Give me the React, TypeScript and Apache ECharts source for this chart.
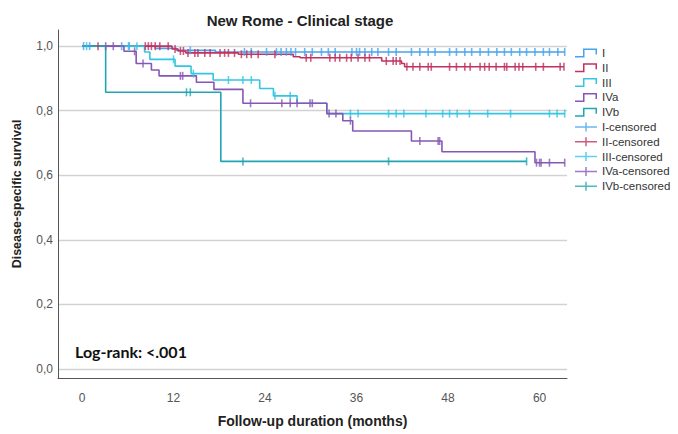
import React, { useEffect, useRef } from "react";
import * as echarts from "echarts";

// Groups and colours
const groups = ["I", "II", "III", "IVa", "IVb"];
const groupColors = ["#46a3ee", "#c2325f", "#33c5e3", "#8757b5", "#22a5b2"];

// Kaplan–Meier step points [month, survival]
const curveI = [[0, 1], [9.6, 0.993], [12.4, 0.987], [17.5, 0.982], [63.3, 0.982]];
const curveII = [[0, 1], [11.8, 0.991], [12.6, 0.985], [13.6, 0.979], [20.5, 0.975], [27.7, 0.967], [28.6, 0.964], [39.3, 0.954], [41.9, 0.946], [42.3, 0.936], [63.2, 0.936]];
const curveIII = [[0, 1], [8.2, 0.982], [8.9, 0.959], [12.2, 0.938], [14.3, 0.915], [17.2, 0.895], [23.3, 0.869], [25.1, 0.846], [28.2, 0.823], [32.1, 0.791], [63.3, 0.791]];
const curveIVa = [[0, 1], [5.5, 0.984], [7.1, 0.946], [9.1, 0.926], [10.1, 0.908], [15.0, 0.888], [17.3, 0.866], [21.1, 0.823], [32.1, 0.791], [34.2, 0.769], [35.5, 0.737], [43.2, 0.706], [47.2, 0.673], [59.4, 0.639], [63.3, 0.639]];
const curveIVb = [[0, 1], [3.1, 0.857], [18.2, 0.643], [58.3, 0.643]];

// Censoring times (months)
const censorI = [0.2, 1.0, 5.2, 6.2, 14.2, 21.3, 22.2, 24.2, 25.5, 26.1, 26.8, 27.4, 28.0, 29.2, 30.2, 31.4, 32.3, 33.2, 35.4, 36.0, 36.4, 37.1, 38.0, 38.8, 40.2, 41.2, 43.2, 44.3, 45.4, 46.3, 48.2, 49.1, 50.2, 51.1, 52.2, 53.3, 54.4, 55.4, 56.3, 57.4, 58.3, 59.4, 60.5, 61.3, 62.4, 63.3];
const censorII = [2.1, 8.3, 8.7, 9.1, 9.6, 10.2, 11.3, 12.2, 12.9, 13.3, 13.9, 14.8, 15.2, 16.1, 16.8, 18.1, 18.7, 19.2, 20.0, 20.9, 21.6, 22.2, 23.1, 25.3, 29.4, 30.0, 32.5, 33.2, 33.8, 34.7, 35.3, 36.2, 37.1, 37.7, 39.9, 40.8, 41.2, 41.7, 42.6, 43.4, 44.3, 45.4, 45.8, 48.2, 49.1, 50.2, 50.9, 52.2, 52.8, 53.4, 54.3, 55.4, 55.7, 56.8, 57.3, 57.8, 59.5, 60.5, 62.7, 63.2];
const censorIII = [0.6, 6.1, 7.2, 12.0, 14.6, 19.2, 21.1, 22.2, 25.3, 27.3, 35.2, 36.2, 40.2, 41.2, 42.2, 45.1, 47.3, 48.2, 49.2, 50.8, 53.2, 56.2, 61.3, 62.3, 63.3];
const censorIVa = [3.1, 4.1, 6.9, 8.0, 12.9, 13.2, 22.1, 26.2, 27.3, 28.2, 29.9, 30.2, 32.4, 33.3, 35.2, 44.3, 46.7, 46.9, 59.6, 60.0, 60.2, 61.3, 63.3];
const censorIVb = [13.7, 14.2, 21.1, 40.2, 58.3];

const curves = [curveI, curveII, curveIII, curveIVa, curveIVb];
const censors = [censorI, censorII, censorIII, censorIVa, censorIVb];

// Axis ticks
const xTicks = [0, 12, 24, 36, 48, 60];

const TITLE = "New Rome - Clinical stage";
const X_NAME = "Follow-up duration (months)";
const Y_NAME = "Disease-specific survival";
const LOGRANK = "Log-rank: <.001";

const STEP_ICON = "path://M0,7.5 H8 V0 H22 V6 H20.5 V1.5 H9.5 V9 H0 Z";
const PLUS_ICON = "path://M0,3.75 H10.25 V0 H11.75 V3.75 H22 V5.25 H11.75 V9 H10.25 V5.25 H0 Z";
const TICK_SYMBOL = "path://M0,0 H2 V10 H0 Z";

function survivalAt(curve: number[][], t: number): number {
  let s = curve[0][1];
  for (const p of curve) {
    if (p[0] <= t) s = p[1];
  }
  return s;
}

export default function App() {
  const ref = useRef<HTMLDivElement>(null);
  useEffect(() => {
    if (!ref.current) return;
    const chart = echarts.init(ref.current, undefined, { renderer: "svg" });
    const lineSeries = groups.map((g, i) => ({
      name: g,
      type: "line",
      step: "end",
      data: curves[i],
      symbol: "none",
      showSymbol: false,
      color: groupColors[i],
      lineStyle: { width: 1.6, color: groupColors[i] },
      z: 3,
    }));
    const censorSeries = groups.map((g, i) => ({
      name: g + "-censored",
      type: "scatter",
      data: censors[i].map((t) => [t, survivalAt(curves[i], t)]),
      symbol: TICK_SYMBOL,
      symbolSize: [1.6, 8],
      color: groupColors[i],
      itemStyle: { color: groupColors[i] },
      z: 4,
    }));
    const legendData = [
      ...groups.map((g) => ({ name: g, icon: STEP_ICON })),
      ...groups.map((g) => ({ name: g + "-censored", icon: PLUS_ICON })),
    ];
    chart.setOption({
      animation: false,
      backgroundColor: "#ffffff",
      title: {
        text: TITLE,
        left: 295,
        top: 8,
        textAlign: "center",
        textStyle: { fontFamily: "Liberation Sans", fontSize: 15, fontWeight: "bold", color: "#222" },
      },
      legend: {
        orient: "vertical",
        left: 570,
        top: 42,
        itemWidth: 22,
        itemHeight: 9,
        itemGap: 2.8,
        symbolKeepAspect: false,
        textStyle: { fontFamily: "Liberation Sans", fontSize: 11.5, color: "#333" },
        data: legendData,
      },
      grid: { left: 58, right: 111, top: 30, bottom: 56 },
      xAxis: {
        type: "value",
        min: -3.15,
        max: 63.6,
        name: X_NAME,
        nameLocation: "middle",
        nameGap: 36,
        nameTextStyle: { fontFamily: "Liberation Sans", fontSize: 14, fontWeight: "bold", color: "#222" },
        axisLine: { show: true, onZero: false, lineStyle: { color: "#555", width: 1 } },
        axisTick: { show: false },
        splitLine: { show: false },
        axisLabel: {
          customValues: xTicks,
          margin: 14,
          fontFamily: "Liberation Sans",
          fontSize: 12,
          color: "#555",
        },
      },
      yAxis: {
        type: "value",
        min: -0.028,
        max: 1.05,
        splitNumber: 5,
        axisLine: { show: true, onZero: false, lineStyle: { color: "#555", width: 1 } },
        axisTick: { show: false },
        splitLine: { show: true, showMinLine: false, showMaxLine: false, lineStyle: { color: "#d2d2d2", width: 1.3 } },
        axisLabel: {
          showMinLabel: false,
          showMaxLabel: false,
          margin: 5,
          fontFamily: "Liberation Sans",
          fontSize: 12,
          color: "#555",
          formatter: (v: number) => v.toFixed(1).replace(".", ","),
        },
      },
      graphic: [
        {
          type: "text",
          x: 17,
          y: 194,
          rotation: Math.PI / 2,
          style: {
            text: Y_NAME,
            fontFamily: "Liberation Sans",
            fontSize: 12.5,
            fontWeight: "bold",
            fill: "#222",
            align: "center",
            verticalAlign: "middle",
          },
        },
        {
          type: "text",
          x: 75,
          y: 351,
          style: {
            text: LOGRANK,
            fontFamily: "Lato",
            fontSize: 16,
            fontWeight: "bold",
            fill: "#111",
            align: "left",
            verticalAlign: "middle",
          },
        },
      ],
      series: [...lineSeries, ...censorSeries],
    });
    return () => chart.dispose();
  }, []);
  return <div ref={ref} style={{ width: 678, height: 434, position: "absolute", left: 0, top: 0 }} />;
}
